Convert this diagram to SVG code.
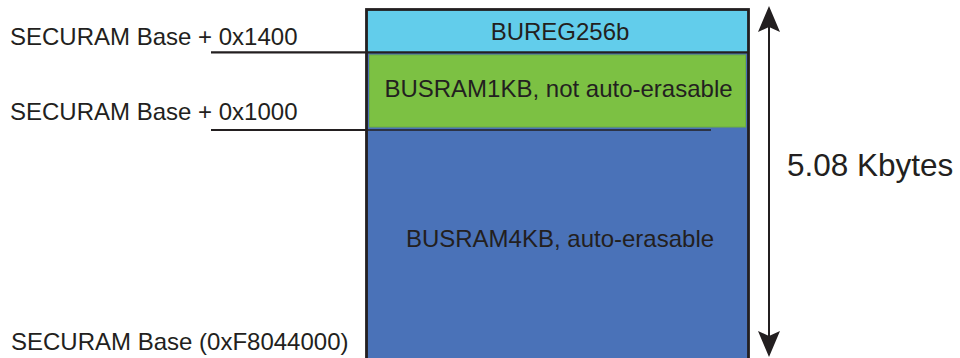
<svg xmlns="http://www.w3.org/2000/svg" width="960" height="358" viewBox="0 0 960 358">
<style>
text{font-family:"Liberation Sans",Arial,sans-serif;fill:#231f20}
.lbl{font-size:24px}
.box{font-size:24px;text-anchor:middle}
.ln{stroke:#231f20;stroke-width:2.2;fill:none}
</style>
<rect width="960" height="358" fill="#ffffff"/>
<g id="memory">
<g id="busram4kb">
<rect x="366.5" y="52" width="382" height="310" fill="#4a72b8"/>
<text class="box" x="560" y="247">BUSRAM4KB, auto-erasable</text>
</g>
<g id="bureg256b">
<rect x="366.5" y="9.5" width="382" height="43" fill="#62cdeb"/>
<text class="box" x="560" y="40">BUREG256b</text>
</g>
<g id="busram1kb">
<rect x="369.5" y="55" width="376" height="72" fill="#7cc143" stroke="#6fae3e" stroke-width="1"/>
<text class="box" x="558.5" y="97">BUSRAM1KB, not auto-erasable</text>
</g>
<rect x="366.5" y="9.5" width="382" height="360" fill="none" stroke="#231f20" stroke-width="2.8"/>
</g>
<g id="connectors">
<line class="ln" x1="366.5" y1="52.3" x2="748.5" y2="52.3"/>
<line class="ln" x1="211" y1="52.3" x2="366.5" y2="52.3"/>
<line class="ln" x1="211" y1="130" x2="366.5" y2="130"/>
<line x1="366.5" y1="130" x2="711" y2="130" stroke="#231f20" stroke-width="1.5"/>
<line x1="769" y1="25" x2="769" y2="340" stroke="#231f20" stroke-width="2"/>
<path d="M769,6 L780,32 L769,27 L758,32 Z" fill="#231f20"/>
<path d="M769,357 L780,331 L769,336 L758,331 Z" fill="#231f20"/>
</g>
<g id="labels">
<text class="lbl" x="10" y="45">SECURAM Base + 0x1400</text>
<text class="lbl" x="10" y="120">SECURAM Base + 0x1000</text>
<text class="lbl" x="11" y="350">SECURAM Base (0xF8044000)</text>
<text x="787" y="176" font-size="31.5">5.08 Kbytes</text>
</g>
</svg>
